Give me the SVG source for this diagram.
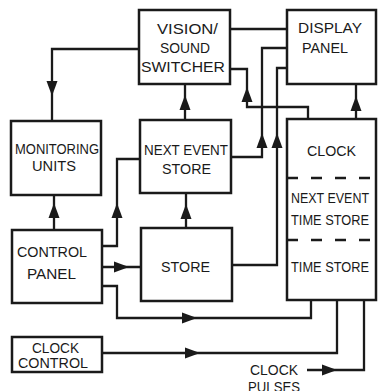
<svg xmlns="http://www.w3.org/2000/svg" xmlns:xlink="http://www.w3.org/1999/xlink" width="378" height="391" viewBox="0 0 378 391">
<style>
.box{fill:#fff;stroke:#1a1a1a;stroke-width:2.5}
.ln{fill:none;stroke:#1a1a1a;stroke-width:2.3;stroke-linejoin:miter}
.dash{stroke:#1a1a1a;stroke-width:2.3;stroke-dasharray:11 13}
text{font-family:"Liberation Sans",Arial,sans-serif;font-size:15.5px;fill:#1a1a1a}
.sm{font-size:14px}
.ah{fill:#1a1a1a}
</style>
<defs>
<path id="ah" class="ah" d="M0,0 L-15,-5.5 L-15,5.5 Z"/>
</defs>
<rect width="378" height="391" fill="#fff"/>
<g id="connectors">
<path class="ln" d="M139,49 H52 V121"/>
<path class="ln" d="M185,84 V120"/>
<path class="ln" d="M186,193 V228"/>
<path class="ln" d="M54,195 V230"/>
<path class="ln" d="M102,246 H117 V159 H140"/>
<path class="ln" d="M102,267 H141"/>
<path class="ln" d="M102,286 H117 V318 H311 V300"/>
<path class="ln" d="M102,353 H337 V300"/>
<path class="ln" d="M307,370 H364 V300"/>
<path class="ln" d="M230,29 H287"/>
<path class="ln" d="M231,157 H262 V48 H287"/>
<path class="ln" d="M232,265 H277 V68 H287"/>
<path class="ln" d="M308,119 V107 H247 V69 H230"/>
<path class="ln" d="M356,119 V84"/>
<use xlink:href="#ah" transform="translate(52,96) rotate(90)"/>
<use xlink:href="#ah" transform="translate(185,95) rotate(-90)"/>
<use xlink:href="#ah" transform="translate(186,204) rotate(-90)"/>
<use xlink:href="#ah" transform="translate(54,203) rotate(-90)"/>
<use xlink:href="#ah" transform="translate(117,203) rotate(-90)"/>
<use xlink:href="#ah" transform="translate(129,267)"/>
<use xlink:href="#ah" transform="translate(197,318)"/>
<use xlink:href="#ah" transform="translate(200,353)"/>
<use xlink:href="#ah" transform="translate(247,87) rotate(-90)"/>
<use xlink:href="#ah" transform="translate(262,133) rotate(-90)"/>
<use xlink:href="#ah" transform="translate(277,133) rotate(-90)"/>
<use xlink:href="#ah" transform="translate(356,96) rotate(-90)"/>
<use xlink:href="#ah" transform="translate(337,370)"/>
</g>
<g id="switcher">
<rect class="box" x="139" y="10" width="91" height="74"/>
<text x="157" y="34" textLength="61" lengthAdjust="spacingAndGlyphs">VISION/</text>
<text x="160" y="53" textLength="50" lengthAdjust="spacingAndGlyphs">SOUND</text>
<text x="141" y="72" textLength="84" lengthAdjust="spacingAndGlyphs">SWITCHER</text>
</g>
<g id="display">
<rect class="box" x="287" y="10" width="89" height="74"/>
<text x="298" y="33" textLength="64" lengthAdjust="spacingAndGlyphs">DISPLAY</text>
<text x="302" y="53" textLength="46" lengthAdjust="spacingAndGlyphs">PANEL</text>
</g>
<g id="monitoring">
<rect class="box" x="11" y="121" width="90" height="74"/>
<text x="15" y="154" textLength="84" lengthAdjust="spacingAndGlyphs">MONITORING</text>
<text x="32" y="171" textLength="44" lengthAdjust="spacingAndGlyphs">UNITS</text>
</g>
<g id="nextevent">
<rect class="box" x="140" y="120" width="91" height="73"/>
<text x="144" y="155" textLength="84" lengthAdjust="spacingAndGlyphs">NEXT EVENT</text>
<text x="162" y="174" textLength="49" lengthAdjust="spacingAndGlyphs">STORE</text>
</g>
<g id="control">
<rect class="box" x="12" y="230" width="90" height="73"/>
<text x="17" y="257" textLength="70" lengthAdjust="spacingAndGlyphs">CONTROL</text>
<text x="27" y="279" textLength="49" lengthAdjust="spacingAndGlyphs">PANEL</text>
</g>
<g id="store">
<rect class="box" x="141" y="228" width="91" height="73"/>
<text x="161" y="272" textLength="49" lengthAdjust="spacingAndGlyphs">STORE</text>
</g>
<g id="clock">
<rect class="box" x="287" y="119" width="89" height="181"/>
<line class="dash" x1="287" y1="178" x2="376" y2="178"/>
<line class="dash" x1="287" y1="240" x2="376" y2="240"/>
<text x="307" y="156" textLength="49" lengthAdjust="spacingAndGlyphs">CLOCK</text>
<text class="sm" x="291" y="203" textLength="78" lengthAdjust="spacingAndGlyphs">NEXT EVENT</text>
<text class="sm" x="291" y="225" textLength="78" lengthAdjust="spacingAndGlyphs">TIME STORE</text>
<text class="sm" x="291" y="272" textLength="78" lengthAdjust="spacingAndGlyphs">TIME STORE</text>
</g>
<g id="clockcontrol">
<rect class="box" x="12" y="337" width="90" height="35"/>
<text class="sm" x="32" y="353" textLength="47" lengthAdjust="spacingAndGlyphs">CLOCK</text>
<text class="sm" x="18" y="368" textLength="70" lengthAdjust="spacingAndGlyphs">CONTROL</text>
</g>
<g id="pulses">
<text x="250" y="375" textLength="48" lengthAdjust="spacingAndGlyphs">CLOCK</text>
<text x="248" y="392" textLength="52" lengthAdjust="spacingAndGlyphs">PULSES</text>
</g>
</svg>
